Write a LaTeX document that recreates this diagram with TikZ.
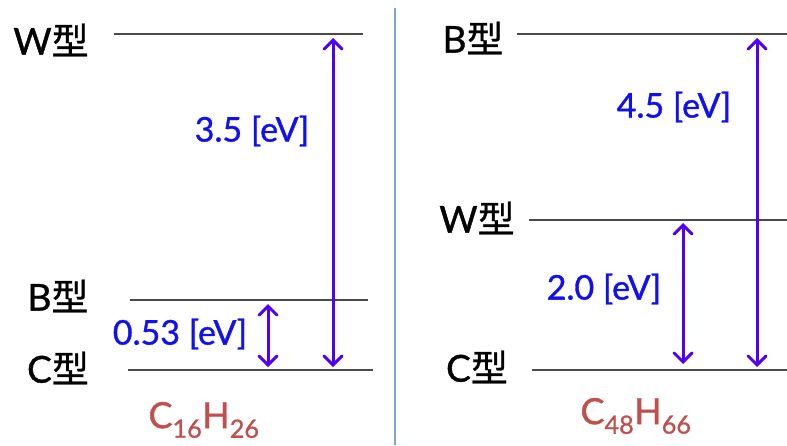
\documentclass[tikz,border=0pt]{standalone}
\usepackage{fontspec}
\setmainfont{Lato}[FakeBold=1.0]
\newfontfamily\cjk{Noto Sans CJK JP}[FakeBold=0.8]
\usetikzlibrary{arrows.meta}
\definecolor{arrowc}{HTML}{5000F5}
\definecolor{labc}{HTML}{1010F0}
\definecolor{formc}{HTML}{C0504D}
\definecolor{sepc}{HTML}{7FA3D0}
\definecolor{levc}{HTML}{4A4A4A}
\tikzset{
  level/.style={draw=levc, line width=2pt},
  gap/.style={draw=arrowc, line width=3pt, line cap=round,
    {Straight Barb[length=9pt,width=18pt,line cap=round]}-{Straight Barb[length=9pt,width=18pt,line cap=round]}},
  kind/.style={font=\fontsize{37}{37}\selectfont, text=black, inner sep=0pt},
  evlab/.style={font=\fontsize{34}{34}\selectfont, text=labc, inner sep=0pt},
  formula/.style={font=\fontsize{36}{36}\selectfont, text=formc, inner sep=0pt}
}
\begin{document}
\begin{tikzpicture}[x=1pt,y=-1pt]
\useasboundingbox (0,0) rectangle (787,445);
% left panel levels
\coordinate (lW1) at (114,34);  \coordinate (lW2) at (363,34);
\coordinate (lB1) at (130,300); \coordinate (lB2) at (368,300);
\coordinate (lC1) at (128,370); \coordinate (lC2) at (373,370);
\draw[level] (lW1) -- (lW2);
\draw[level] (lB1) -- (lB2);
\draw[level] (lC1) -- (lC2);
\node[kind] (lWt) at (51,40) {W{\cjk 型}};
\node[kind] (lBt) at (58,296) {B{\cjk 型}};
\node[kind] (lCt) at (58,368) {C{\cjk 型}};
\coordinate (la1) at (333,38);  \coordinate (la2) at (333,367);
\coordinate (lb1) at (268,304); \coordinate (lb2) at (268,367);
\draw[gap] (la1) -- (la2);
\draw[gap] (lb1) -- (lb2);
\node[evlab] (l35) at (252,131) {3.5 [eV]};
\node[evlab] (l053) at (180,334) {0.53 [eV]};
\node[formula] (lf) at (204,420) {C\textsubscript{16}H\textsubscript{26}};
% separator
\coordinate (s1) at (395,8); \coordinate (s2) at (395,445);
\draw[sepc, line width=1.5pt] (s1) -- (s2);
% right panel levels
\coordinate (rB1) at (517,34);  \coordinate (rB2) at (787,34);
\coordinate (rW1) at (529,220); \coordinate (rW2) at (787,220);
\coordinate (rC1) at (532,370); \coordinate (rC2) at (787,370);
\draw[level] (rB1) -- (rB2);
\draw[level] (rW1) -- (rW2);
\draw[level] (rC1) -- (rC2);
\node[kind] (rBt) at (473,38) {B{\cjk 型}};
\node[kind] (rWt) at (477,218) {W{\cjk 型}};
\node[kind] (rCt) at (477,367) {C{\cjk 型}};
\coordinate (ra1) at (757,38);  \coordinate (ra2) at (757,367);
\coordinate (rb1) at (683,223); \coordinate (rb2) at (683,364);
\draw[gap] (ra1) -- (ra2);
\draw[gap] (rb1) -- (rb2);
\node[evlab] (r45) at (674,107) {4.5 [eV]};
\node[evlab] (r20) at (604,289) {2.0 [eV]};
\node[formula] (rf) at (636,416) {C\textsubscript{48}H\textsubscript{66}};
\end{tikzpicture}
\end{document}
